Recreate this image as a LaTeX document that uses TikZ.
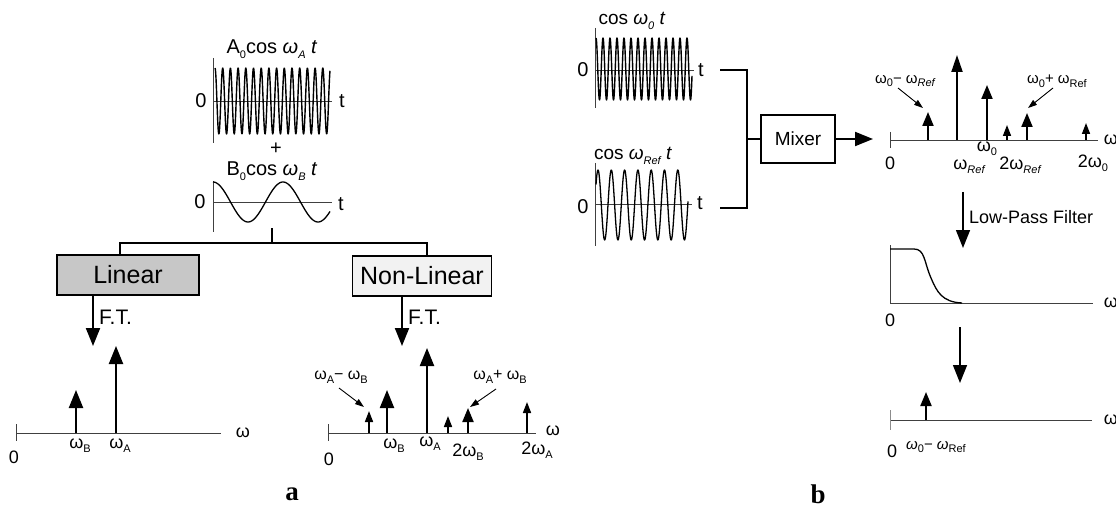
\documentclass[tikz,border=0pt]{standalone}
\usepackage{fontspec}
\setmainfont{Liberation Sans}
\newfontfamily\serifbold{Liberation Serif}
\usetikzlibrary{arrows.meta,calc}
\newcommand\lo[1]{\raisebox{-0.45ex}{\fontsize{11}{11}\selectfont #1}}
\newcommand\loi[1]{\raisebox{-0.45ex}{\fontsize{11}{11}\selectfont\itshape #1}}
\tikzset{
  axisline/.style={line width=0.7pt, black!75},
  waveline/.style={line width=1.4pt, line join=round},
  frame/.style={line width=1.4pt},
  spikeL/.style={line width=2.2pt, -{Triangle[width=14pt,length=18pt]}},
  spikeM/.style={line width=2pt, -{Triangle[width=11pt,length=14pt]}},
  spikeS/.style={line width=1.6pt, -{Triangle[width=8pt,length=11pt]}},
  leader/.style={line width=0.9pt, -{Triangle[width=6pt,length=9pt]}},
  flow/.style={line width=2pt, -{Triangle[width=14pt,length=18pt]}},
  lbl/.style={font=\fontsize{18}{18}\selectfont, inner sep=0pt},
  ttl/.style={font=\fontsize{20}{20}\selectfont, inner sep=0pt},
  bigbox/.style={draw, line width=1.8pt, font=\fontsize{25}{25}\selectfont, inner sep=0pt, minimum height=40pt},
}
\begin{document}
\begin{tikzpicture}[x=1pt,y=-1pt]
\useasboundingbox[fill=white] (0,0) rectangle (1116,513);

%%%%%%%%%%%%%%%% Panel a %%%%%%%%%%%%%%%%
% wave A
\node[ttl] (tA) at (272,49) {A\lo{0}cos \textit{ω}\loi{A} \textit{t}};
\draw[axisline, line width=1pt] (213,58) -- (213,143);
\draw[axisline] (213,101) -- (332,101);
\draw[waveline] plot[domain=215:330, samples=400, smooth] (\x,{101-33*cos(46.753*(\x-215))});
\node[ttl] (zA) at (201,101) {0};
\node[ttl] (tAx) at (342,101) {t};
\node[font=\fontsize{20}{20}\selectfont, inner sep=0] (plus) at (276,149) {+};
% wave B
\node[ttl] (tB) at (272,171) {B\lo{0}cos \textit{ω}\loi{B} \textit{t}};
\draw[axisline, line width=1pt] (213,181) -- (213,232);
\draw[axisline] (213,202) -- (332,202);
\draw[line width=1.3pt] plot[domain=213:330, samples=120, smooth] (\x,{202-20*cos(5.1429*(\x-213))});
\node[ttl] (zB) at (200,202) {0};
\node[ttl] (tBx) at (341,204) {t};

% boxes
\node[bigbox, fill=black!22, minimum width=142pt] (lin) at (128,275) {Linear};
\node[bigbox, fill=black!5, minimum width=139pt] (nonlin) at (422,276) {Non-Linear};

% bracket
\coordinate (brtop) at (272,228);
\coordinate (brmid) at (272,243);
\draw[frame] (brtop) -- (brmid);
\draw[frame] (lin.north -| 120,0) |- (brmid) -| (nonlin.north -| 427,0);

% F.T. arrows
\coordinate (ft1s) at (93,295);
\coordinate (ft1e) at (93,346);
\coordinate (ft2s) at (402,296);
\coordinate (ft2e) at (402,346);
\draw[flow] (ft1s) -- (ft1e);
\draw[flow] (ft2s) -- (ft2e);
\node[font=\fontsize{21}{21}\selectfont, inner sep=0, anchor=west] (ftl1) at (99,317) {F.T.};
\node[font=\fontsize{21}{21}\selectfont, inner sep=0, anchor=west] (ftl2) at (408,317) {F.T.};

% linear spectrum
\draw[axisline] (16,433) -- (221,433);
\draw[axisline] (16,424) -- (16,441);
\draw[spikeL] (76,433) -- (76,390);
\draw[spikeL] (116,433) -- (116,346);
\node[lbl] (l0) at (14,457) {0};
\node[lbl] (lwB) at (80,446) {ω\lo{B}};
\node[lbl] (lwA) at (120,446) {ω\lo{A}};
\node[lbl] (lw) at (243,433) {ω};

% non-linear spectrum
\draw[axisline] (328,433) -- (536,433);
\draw[axisline] (328,424) -- (328,441);
\draw[spikeS] (369,433) -- (369,411);
\draw[spikeL] (387,433) -- (387,390);
\draw[spikeL] (427,433) -- (427,348);
\draw[spikeS] (448,433) -- (448,416);
\draw[spikeM] (468,433) -- (468,408);
\draw[spikeS] (527,433) -- (527,402);
\node[lbl] (n0) at (329,459) {0};
\node[lbl] (nwB) at (394,446) {ω\lo{B}};
\node[lbl] (nwA) at (430,444) {ω\lo{A}};
\node[lbl] (n2wB) at (468,452) {2ω\lo{B}};
\node[lbl] (n2wA) at (537,450) {2ω\lo{A}};
\node[lbl] (nw) at (553,431) {ω};
\node[lbl, font=\fontsize{16}{16}\selectfont] (ndiff) at (341,377) {ω\lo{A}− ω\lo{B}};
\node[lbl, font=\fontsize{16}{16}\selectfont] (nsum) at (500,377) {ω\lo{A}+ ω\lo{B}};
\coordinate (nd1) at (339,388);
\coordinate (nd2) at (364,407);
\coordinate (ns1) at (496,389);
\coordinate (ns2) at (470,407);
\draw[leader] (nd1) -- (nd2);
\draw[leader] (ns1) -- (ns2);

\node[font=\serifbold\bfseries\fontsize{27}{27}\selectfont, inner sep=0] (capa) at (292,494) {a};

%%%%%%%%%%%%%%%% Panel b %%%%%%%%%%%%%%%%
% wave omega0
\node[ttl, font=\fontsize{19}{19}\selectfont] (t0) at (632,21) {cos \textit{ω}\loi{0} \textit{t}};
\draw[axisline, line width=1pt] (595,28) -- (595,108);
\draw[axisline] (595,70) -- (694,70);
\draw[waveline] plot[domain=596:692, samples=400, smooth] (\x,{69-31*cos(51.4286*(\x-596))});
\node[ttl] (z0) at (583,70) {0};
\node[ttl] (t0x) at (701,70) {t};
% wave ref
\node[ttl, font=\fontsize{19}{19}\selectfont] (tR) at (633,156) {cos \textit{ω}\loi{Ref} \textit{t}};
\draw[axisline, line width=1pt] (595,163) -- (595,246);
\draw[axisline] (595,204) -- (692,204);
\draw[waveline, line width=1.3pt] plot[domain=596:688, samples=300, smooth] (\x,{205-35*cos(27.0677*(\x-598))});
\node[ttl] (zR) at (583,207) {0};
\node[ttl] (tRx) at (700,203) {t};

% bracket to mixer
\node[draw, line width=1.6pt, minimum width=74pt, minimum height=48pt, inner sep=0,
      font=\fontsize{19}{19}\selectfont] (mix) at (798,139) {Mixer};
\coordinate (b1) at (720,70);
\coordinate (b2) at (720,208);
\coordinate (bm) at (747,139);
\draw[frame] (b1) -| (bm) |- (b2);
\draw[frame] (bm) -- (mix.west);
\coordinate (mixout) at (873,139);
\draw[flow] (mix.east) -- (mixout);

% mixer spectrum
\draw[axisline] (890,140) -- (1098,140);
\draw[axisline] (890,132) -- (890,148);
\draw[spikeM] (928,140) -- (928,112);
\draw[spikeL, line width=2pt, -{Triangle[width=11pt,length=17pt]}] (957,140) -- (957,55);
\draw[spikeM] (987,140) -- (987,85);
\draw[spikeS] (1007,140) -- (1007,125);
\draw[spikeM] (1027,140) -- (1027,113);
\draw[spikeS] (1086,140) -- (1086,123);
\node[lbl] (m0) at (890,163) {0};
\node[lbl] (mw0) at (987,149) {ω\lo{0}};
\node[lbl] (mwR) at (969,167) {ω\lo{\itshape Ref}};
\node[lbl] (m2wR) at (1020,165) {2ω\lo{\itshape Ref}};
\node[lbl] (m2w0) at (1093,163) {2ω\lo{0}};
\node[lbl] (mw) at (1111,140) {ω};
\node[lbl, font=\fontsize{15}{15}\selectfont] (mdiff) at (905,81) {ω\lo{0}− ω\lo{\itshape Ref}};
\node[lbl, font=\fontsize{15}{15}\selectfont] (msum) at (1057,81) {ω\lo{0}+ ω\lo{Ref}};
\coordinate (md1) at (898,88);
\coordinate (md2) at (923,108);
\coordinate (ms1) at (1053,88);
\coordinate (ms2) at (1028,108);
\draw[leader] (md1) -- (md2);
\draw[leader] (ms1) -- (ms2);

% low-pass
\coordinate (lp1) at (963,192);
\coordinate (lp2) at (963,248);
\draw[flow, line width=1.4pt] (lp1) -- (lp2);
\node[font=\fontsize{18}{18}\selectfont, inner sep=0, anchor=west] (lpl) at (969,217) {Low-Pass Filter};

% filter curve
\draw[axisline, line width=1pt] (890,245) -- (890,303) -- (1093,303);
\draw[line width=1.3pt] (890,249) -- (914,249) .. controls (925,249) and (924,262) .. (931,278)
   .. controls (937,292) and (942,302) .. (962,303);
\node[lbl] (f0) at (890,320) {0};
\node[lbl] (fw) at (1111,303) {ω};

% second arrow
\coordinate (da1) at (960,327);
\coordinate (da2) at (960,383);
\draw[flow, line width=1.4pt] (da1) -- (da2);

% output spectrum
\draw[axisline] (890,420) -- (1092,420);
\draw[axisline, black!45] (890,410) -- (890,430);
\draw[spikeM] (926,420) -- (926,392);
\node[lbl] (o0) at (892,451) {0};
\node[lbl, font=\fontsize{15}{15}\selectfont] (odiff) at (936,447) {\textit{ω}\lo{0}− \textit{ω}\lo{Ref}};
\node[lbl] (ow) at (1111,420) {ω};

\node[font=\serifbold\bfseries\fontsize{27}{27}\selectfont, inner sep=0] (capb) at (818,494) {b};
\end{tikzpicture}
\end{document}
